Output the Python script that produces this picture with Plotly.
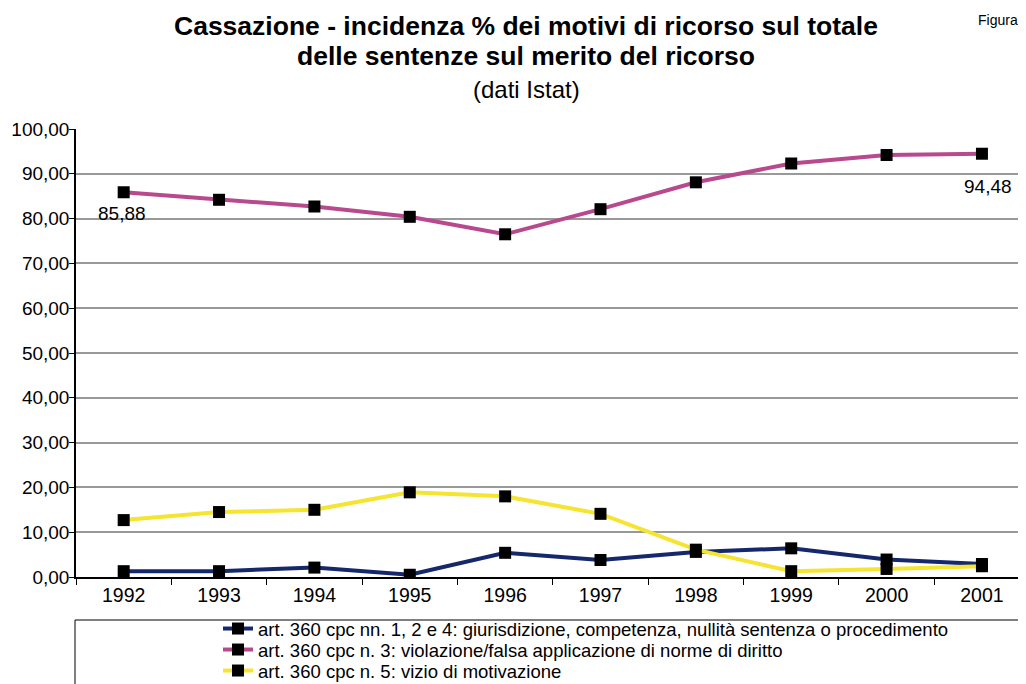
import plotly.graph_objects as go

years = ["1992", "1993", "1994", "1995", "1996", "1997", "1998", "1999", "2000", "2001"]
giurisdizione = [1.3, 1.3, 2.1, 0.5, 5.4, 3.8, 5.6, 6.4, 3.9, 2.9]
violazione = [85.88, 84.2, 82.7, 80.4, 76.5, 82.1, 88.1, 92.3, 94.2, 94.48]
motivazione = [12.7, 14.5, 15.0, 18.9, 18.0, 14.1, 6.1, 1.3, 1.8, 2.4]

names = [
    "art. 360 cpc nn. 1, 2 e 4: giurisdizione, competenza, nullità sentenza o procedimento",
    "art. 360 cpc n. 3: violazione/falsa applicazione di norme di diritto",
    "art. 360 cpc n. 5: vizio di motivazione",
]
colors = ["#14286b", "#b9498f", "#f5e430"]
series = [giurisdizione, violazione, motivazione]

FONT = "Liberation Sans, Arial, sans-serif"
legend_ids = ["legend", "legend2", "legend3"]
legend_tops = [610, 631, 652]  # page pixels

fig = go.Figure()
for name, col, vals, lg in zip(names, colors, series, legend_ids):
    fig.add_trace(go.Scatter(
        x=years, y=vals, name=name, mode="lines+markers", legend=lg,
        line=dict(color=col, width=4),
        marker=dict(symbol="square", size=12, color="black", line=dict(width=0)),
    ))

def fmt(v):
    return f"{v:.2f}".replace(".", ",")

first, last = 0, len(years) - 1
fig.add_annotation(x=first, y=violazione[first], text=fmt(violazione[first]),
                   showarrow=False, yshift=-21, xshift=-2, font=dict(family=FONT, size=19, color="black"))
fig.add_annotation(x=last, y=violazione[last], text=fmt(violazione[last]),
                   showarrow=False, yshift=-33, xshift=6, font=dict(family=FONT, size=19, color="black"))

def px_x(p):
    return (p - 76) / 946

def px_y(p):
    return (577 - p) / 448

TX = px_x(526)
fig.add_annotation(xref="paper", yref="paper", x=TX, y=px_y(26), yanchor="middle",
                   text="<b>Cassazione - incidenza % dei motivi di ricorso sul totale</b>",
                   showarrow=False, font=dict(family=FONT, size=26.5, color="black"))
fig.add_annotation(xref="paper", yref="paper", x=TX, y=px_y(56), yanchor="middle",
                   text="<b>delle sentenze sul merito del ricorso</b>",
                   showarrow=False, font=dict(family=FONT, size=26.5, color="black"))
fig.add_annotation(xref="paper", yref="paper", x=TX, y=px_y(89), yanchor="middle",
                   text="(dati Istat)",
                   showarrow=False, font=dict(family=FONT, size=24, color="black"))
fig.add_annotation(xref="paper", yref="paper", x=px_x(1020), y=px_y(10),
                   xanchor="right", yanchor="top",
                   text="Figura", showarrow=False, font=dict(family=FONT, size=14, color="black"))

# legend box
fig.add_shape(type="rect", xref="paper", yref="paper",
              x0=px_x(75), x1=px_x(1040), y0=px_y(700), y1=px_y(620),
              line=dict(color="black", width=1), fillcolor="rgba(0,0,0,0)", layer="above")

legend_common = dict(xanchor="left", yanchor="top", bgcolor="rgba(0,0,0,0)", borderwidth=0,
                     tracegroupgap=0, itemwidth=30,
                     font=dict(family=FONT, size=18.5, color="black"))
legends = {}
for lg, top in zip(legend_ids, legend_tops):
    legends[lg] = dict(x=px_x(218), y=px_y(top), **legend_common)

fig.update_layout(
    width=1018, height=676,
    margin=dict(l=68, r=4, t=121, b=107, autoexpand=False),
    paper_bgcolor="white", plot_bgcolor="white",
    separators=",.",
    showlegend=True,
    font=dict(family=FONT, size=17, color="black"),
    **legends,
)
fig.update_xaxes(type="category", range=[-0.5, 9.42], showline=True, linecolor="black", linewidth=1.5,
                 ticks="outside", ticklen=6, tickcolor="black", tickson="boundaries",
                 showgrid=False, tickfont=dict(family=FONT, size=19.5, color="black"),
                 automargin=False)
fig.update_yaxes(range=[0, 100], dtick=10, tickformat=".2f", showline=True, linecolor="black",
                 linewidth=1.5, ticks="outside", ticklen=5, tickcolor="black",
                 showgrid=True, gridcolor="#999999", gridwidth=1.5, zeroline=False,
                 tickfont=dict(family=FONT, size=19, color="black"), automargin=False,
                 ticklabelstandoff=-4)

fig.write_html("out.html")
